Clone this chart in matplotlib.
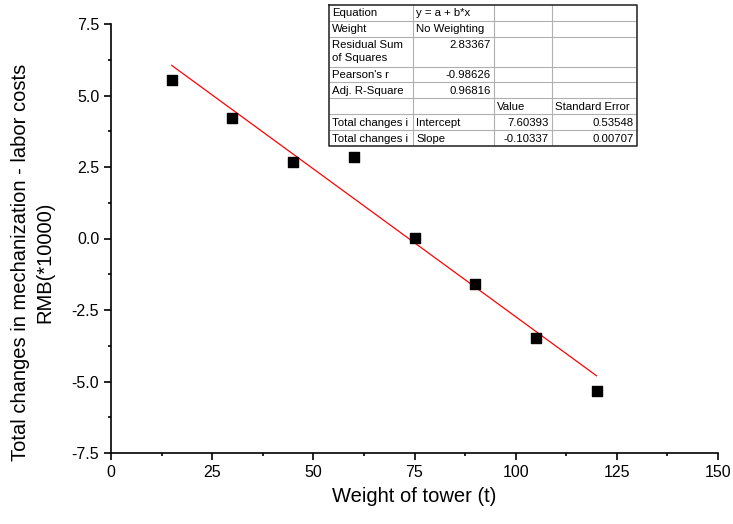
import matplotlib

matplotlib.use("Agg")
import matplotlib.pyplot as plt
from matplotlib.ticker import MultipleLocator

plt.rcParams["font.family"] = ["Liberation Sans", "DejaVu Sans"]

# 散点数据
weight_t = [15, 30, 45, 60, 75, 90, 105, 120]
cost_change = [5.55, 4.2, 2.66, 2.84, 0.03, -1.6, -3.47, -5.33]

# 线性拟合结果（来自图中表格）
intercept = 7.60393
slope = -0.10337
fit_x = [15, 120]

# 表格内容
table_rows = [
    ["Equation", "y = a + b*x", "", ""],
    ["Weight", "No Weighting", "", ""],
    ["Residual Sum\nof Squares", "2.83367", "", ""],
    ["Pearson's r", "-0.98626", "", ""],
    ["Adj. R-Square", "0.96816", "", ""],
    ["", "", "Value", "Standard Error"],
    ["Total changes i", "Intercept", "7.60393", "0.53548"],
    ["Total changes i", "Slope", "-0.10337", "0.00707"],
]
# 每个单元格的对齐方式：l=左, r=右
table_align = [
    "llll",
    "llll",
    "lrll",
    "lrll",
    "lrll",
    "llll",
    "llrr",
    "llrr",
]

W, H = 733, 524
fig = plt.figure(figsize=(W / 100, H / 100), dpi=100)
ax = fig.add_axes([111 / W, 1 - 453 / H, (718 - 111) / W, (453 - 24) / H])

ax.scatter(weight_t, cost_change, marker="s", s=52, color="black", zorder=3)
fit_y = [intercept + slope * x for x in fit_x]
ax.plot(fit_x, fit_y, color="red", lw=0.9, zorder=2)

ax.set_xlim(0, 150)
ax.set_ylim(-7.5, 7.5)
ax.xaxis.set_major_locator(MultipleLocator(25))
ax.xaxis.set_minor_locator(MultipleLocator(12.5))
ax.yaxis.set_major_locator(MultipleLocator(2.5))
ax.yaxis.set_minor_locator(MultipleLocator(1.25))
ax.yaxis.set_major_formatter(plt.FormatStrFormatter("%.1f"))
for side in ("top", "right"):
    ax.spines[side].set_visible(False)
for side in ("left", "bottom"):
    ax.spines[side].set_linewidth(1.2)
ax.tick_params(which="major", direction="out", length=5, width=1.2, labelsize=11.5)
ax.tick_params(which="minor", direction="out", length=2.5, width=1.2)

ax.set_xlabel("Weight of tower (t)", fontsize=14.5, labelpad=5)
ax.set_ylabel(
    "Total changes in mechanization - labor costs\nRMB(*10000)",
    fontsize=14.5,
    linespacing=1.4,
)
ax.yaxis.set_label_coords(-0.093, 0.445)

# 拟合参数表（按像素坐标画）
col_x = [329, 413, 494, 552, 637]
row_y = [5, 21, 37, 67, 82, 98, 114, 130, 146]
tax = fig.add_axes(
    [col_x[0] / W, 1 - row_y[-1] / H, (col_x[-1] - col_x[0]) / W, (row_y[-1] - row_y[0]) / H]
)
tax.set_xlim(col_x[0], col_x[-1])
tax.set_ylim(row_y[-1], row_y[0])
tax.axis("off")
for y in row_y[1:-1]:
    tax.plot([col_x[0], col_x[-1]], [y, y], color="#b0b0b0", lw=0.8)
for x in col_x[1:-1]:
    tax.plot([x, x], [row_y[0], row_y[-1]], color="#b0b0b0", lw=0.8)
tax.plot(
    [col_x[0], col_x[-1], col_x[-1], col_x[0], col_x[0]],
    [row_y[0], row_y[0], row_y[-1], row_y[-1], row_y[0]],
    color="#303030",
    lw=1.2,
    clip_on=False,
)
for i, row in enumerate(table_rows):
    # 两行高的格子文字靠上，其余垂直居中
    tall = row_y[i + 1] - row_y[i] > 20
    for j, txt in enumerate(row):
        if not txt:
            continue
        if table_align[i][j] == "l":
            tx, ha = col_x[j] + 3, "left"
        else:
            tx, ha = col_x[j + 1] - 3, "right"
        if tall:
            ty, va = row_y[i] + 2.5, "top"
        else:
            ty, va = (row_y[i] + row_y[i + 1]) / 2 + 0.5, "center"
        tax.text(tx, ty, txt, ha=ha, va=va, fontsize=8.2, linespacing=1.4)

fig.savefig("out.png", dpi=100)
